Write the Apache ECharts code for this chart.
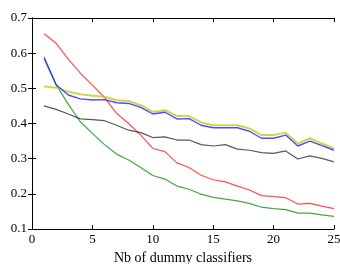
<!DOCTYPE html>
<html>
<head>
<meta charset="utf-8">
<script src="https://cdn.jsdelivr.net/npm/echarts@6/dist/echarts.min.js"></script>
<style>
  html, body { margin: 0; padding: 0; background: #fff; }
  #chart { width: 340px; height: 264px; }
</style>
</head>
<body>
<div id="chart"></div>
<script>
var nb = []
for (var i = 1; i <= 25; i++) nb.push(i)

var red = [0.655, 0.628, 0.583, 0.543, 0.509, 0.474, 0.429, 0.400, 0.367, 0.329,
  0.320, 0.288, 0.275, 0.253, 0.240, 0.234, 0.222, 0.211, 0.195, 0.192,
  0.189, 0.171, 0.173, 0.165, 0.158]
var green = [0.590, 0.510, 0.455, 0.405, 0.372, 0.340, 0.313, 0.296, 0.275, 0.252,
  0.242, 0.222, 0.213, 0.199, 0.190, 0.185, 0.180, 0.173, 0.162, 0.158,
  0.155, 0.145, 0.145, 0.140, 0.136]
var blue = [0.585, 0.510, 0.481, 0.470, 0.467, 0.468, 0.459, 0.457, 0.446, 0.427,
  0.432, 0.413, 0.414, 0.395, 0.388, 0.388, 0.388, 0.378, 0.358, 0.358,
  0.367, 0.336, 0.350, 0.337, 0.324]
var yellow = [0.505, 0.502, 0.490, 0.483, 0.479, 0.476, 0.466, 0.464, 0.452, 0.433,
  0.438, 0.421, 0.421, 0.403, 0.395, 0.395, 0.395, 0.386, 0.367, 0.367,
  0.374, 0.343, 0.358, 0.343, 0.329]
var black = [0.450, 0.440, 0.427, 0.413, 0.411, 0.408, 0.395, 0.381, 0.374, 0.360,
  0.362, 0.353, 0.353, 0.340, 0.336, 0.340, 0.327, 0.324, 0.317, 0.315,
  0.322, 0.299, 0.308, 0.301, 0.291]

var xTicks = [0, 25, 5]
var yTicks = [0.1, 0.7, 0.1]
var xName = 'Nb of dummy classifiers'

function pairs(vals) {
  var out = []
  for (var i = 0; i < vals.length; i++) out.push([nb[i], vals[i]])
  return out
}

function line(vals, color, width, opacity) {
  return {
    type: 'line',
    data: pairs(vals),
    showSymbol: false,
    symbol: 'none',
    lineStyle: { color: color, width: width, opacity: opacity },
    animation: false
  }
}

var font = 'Liberation Serif'
var axisLine = { show: true, lineStyle: { color: '#000', width: 1 } }
var tickIn = { show: true, inside: true, length: 4, lineStyle: { color: '#000' } }

var myChart = echarts.init(document.getElementById('chart'))
var option = {
  backgroundColor: '#fff',
  grid: { left: 32, right: 6, top: 18, bottom: 35, containLabel: false, outerBoundsMode: 'none' },
  xAxis: [
    {
      type: 'value', min: xTicks[0], max: xTicks[1], interval: xTicks[2],
      name: xName, nameLocation: 'middle', nameGap: 18,
      nameTextStyle: { fontFamily: font, fontSize: 14, color: '#000' },
      axisLine: axisLine, axisTick: tickIn, splitLine: { show: false },
      axisLabel: { fontFamily: font, fontSize: 13, color: '#000', margin: 4 }
    },
    {
      type: 'value', position: 'top', min: xTicks[0], max: xTicks[1], interval: xTicks[2],
      axisLine: axisLine, axisTick: tickIn, splitLine: { show: false },
      axisLabel: { show: false }
    }
  ],
  yAxis: [
    {
      type: 'value', min: yTicks[0], max: yTicks[1], interval: yTicks[2],
      axisLine: axisLine, axisTick: tickIn, splitLine: { show: false },
      axisLabel: { fontFamily: font, fontSize: 13, color: '#000', margin: 5,
        formatter: function (v) { return v.toFixed(1) } }
    },
    {
      type: 'value', position: 'right', min: yTicks[0], max: yTicks[1], interval: yTicks[2],
      axisLine: axisLine, axisTick: tickIn, splitLine: { show: false },
      axisLabel: { show: false }
    }
  ],
  series: [
    line(red, '#ff3030', 1.2, 0.85),
    line(green, '#229922', 1.2, 0.85),
    line(yellow, '#c8c820', 2, 0.8),
    line(blue, '#2020ff', 1.4, 0.8),
    line(black, '#222222', 1.2, 0.75)
  ]
}
myChart.setOption(option)
</script>
</body>
</html>
